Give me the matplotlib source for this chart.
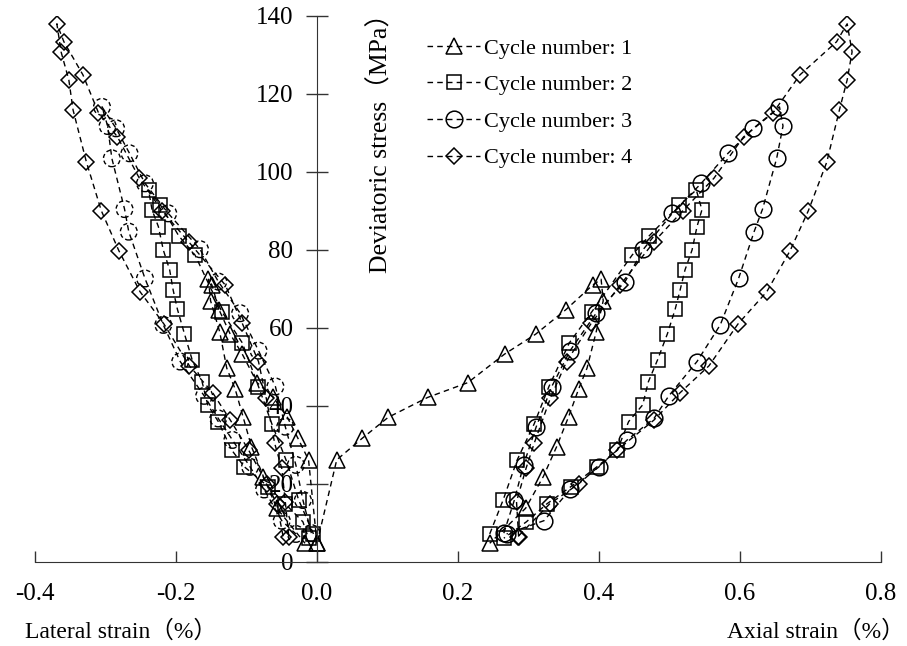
import matplotlib
matplotlib.use('Agg')
import matplotlib.pyplot as plt

plt.rcParams['font.family'] = ['Liberation Serif', 'Noto Sans CJK SC']

# stress (MPa) with the matching axial / lateral strain (%) for each cycle
stress1 = [4.8, 26.2, 31.7, 37.1, 42.2, 46.0, 53.3, 58.4, 64.7, 71.0, 72.5,
           67.0, 59.0, 49.7, 44.3, 37.3, 29.6, 21.9, 13.8, 4.8]
axial1 = [0.0, 0.028, 0.064, 0.101, 0.157, 0.214, 0.266, 0.310, 0.353, 0.391, 0.403,
          0.406, 0.396, 0.383, 0.371, 0.357, 0.340, 0.321, 0.296, 0.245]
lateral1 = [0.0, -0.012, -0.027, -0.042, -0.062, -0.085, -0.106, -0.123, -0.139, -0.149, -0.154,
            -0.151, -0.138, -0.128, -0.116, -0.105, -0.093, -0.076, -0.057, -0.017]

stress2 = [7.2, 15.9, 26.2, 35.4, 45.0, 56.2, 64.2, 78.7, 83.6, 91.5, 95.4,
           90.3, 86.0, 80.0, 74.9, 69.7, 64.8, 58.5, 51.8, 46.2, 40.3, 36.0, 28.7, 24.4, 19.3, 14.9, 10.3, 6.1]
axial2 = [0.245, 0.264, 0.284, 0.308, 0.329, 0.358, 0.390, 0.447, 0.471, 0.514, 0.538,
          0.546, 0.539, 0.532, 0.522, 0.515, 0.508, 0.497, 0.483, 0.470, 0.462, 0.442, 0.426, 0.397, 0.360, 0.326, 0.297, 0.265]
lateral2 = [-0.005, -0.026, -0.044, -0.064, -0.083, -0.106, -0.135, -0.173, -0.196, -0.222, -0.239,
            -0.234, -0.225, -0.218, -0.209, -0.204, -0.198, -0.188, -0.177, -0.163, -0.155, -0.140, -0.121, -0.103, -0.069, -0.045, -0.020, -0.012]

stress3 = [7.4, 15.9, 24.9, 34.7, 45.0, 54.2, 63.8, 71.9, 80.2, 89.4, 97.1, 104.8, 111.2, 116.7,
           111.8, 103.5, 90.5, 84.7, 72.7, 60.8, 51.4, 42.6, 36.8, 31.3, 24.4, 18.6, 10.6, 7.2]
axial3 = [0.265, 0.280, 0.293, 0.311, 0.333, 0.359, 0.396, 0.437, 0.463, 0.504, 0.545, 0.583, 0.619, 0.656,
          0.661, 0.652, 0.632, 0.620, 0.598, 0.572, 0.539, 0.499, 0.478, 0.440, 0.400, 0.359, 0.322, 0.269]
lateral3 = [-0.008, -0.020, -0.030, -0.045, -0.059, -0.083, -0.109, -0.140, -0.166, -0.211, -0.244, -0.266, -0.285, -0.305,
            -0.297, -0.291, -0.273, -0.267, -0.244, -0.218, -0.194, -0.160, -0.140, -0.120, -0.095, -0.075, -0.050, -0.030]

stress4 = [6.5, 15.5, 24.0, 30.4, 42.0, 51.4, 61.2, 71.0, 82.1, 90.1, 98.4, 109.0, 115.2, 124.9, 133.4, 138.0,
           130.8, 123.6, 115.9, 102.5, 90.1, 79.8, 69.3, 61.0, 50.3, 43.4, 36.4, 28.7, 20.0, 14.9, 6.5]
axial4 = [0.286, 0.283, 0.2965, 0.308, 0.331, 0.354, 0.389, 0.430, 0.478, 0.519, 0.563, 0.605, 0.647, 0.685, 0.737, 0.752,
          0.759, 0.752, 0.741, 0.723, 0.697, 0.671, 0.638, 0.597, 0.556, 0.515, 0.478, 0.426, 0.371, 0.330, 0.285]
lateral4 = [-0.040, -0.045, -0.050, -0.060, -0.072, -0.083, -0.106, -0.130, -0.182, -0.220, -0.252, -0.283, -0.310, -0.332, -0.359, -0.369,
            -0.363, -0.352, -0.346, -0.327, -0.306, -0.281, -0.251, -0.217, -0.181, -0.148, -0.123, -0.097, -0.071, -0.057, -0.048]

cycle_labels = ['Cycle number: 1', 'Cycle number: 2', 'Cycle number: 3', 'Cycle number: 4']
xticks = [-0.4, -0.2, 0.0, 0.2, 0.4, 0.6, 0.8]
yticks = [0, 20, 40, 60, 80, 100, 120, 140]

fig = plt.figure(figsize=(9.07, 6.46), dpi=100)
ax = fig.add_axes([35 / 907, 84 / 646, 846 / 907, 546 / 646])

line_kw = dict(color='k', lw=1.0, linestyle=(0, (4, 3)), mfc='none', mec='k', mew=1.1)
styles = [('^', 11.5), ('s', 10.5), ('o', 12.0), ('D', 7.8)]
series = [(stress1, axial1, lateral1), (stress2, axial2, lateral2),
          (stress3, axial3, lateral3), (stress4, axial4, lateral4)]

handles = []
for i, ((s, ea, el), (mk, ms)) in enumerate(zip(series, styles)):
    h, = ax.plot(ea, s, marker=mk, ms=ms, label=cycle_labels[i], **line_kw)
    handles.append(h)
    if mk == 'o':
        # lateral circles drawn with a dashed outline
        ax.plot(el, s, marker='none', **line_kw)
        ax.scatter(el, s, s=ms ** 2, marker='o', facecolors='none', edgecolors='k',
                   linewidths=1.0, linestyles=(0, (3, 2)), zorder=3)
    else:
        ax.plot(el, s, marker=mk, ms=ms, **line_kw)

ax.set_xlim(-0.4, 0.8)
ax.set_ylim(0, 140)
ax.spines['left'].set_position(('data', 0))
ax.spines['right'].set_visible(False)
ax.spines['top'].set_visible(False)
ax.spines['left'].set_color('#333333')
ax.spines['bottom'].set_color('#333333')
ax.set_xticks(xticks)
ax.set_xticklabels(['%.1f' % v for v in xticks])
ax.set_yticks(yticks)
ax.tick_params(axis='x', direction='in', length=8, width=1, pad=15, labelsize=18, color='#333333')
ax.tick_params(axis='y', direction='inout', length=16, width=1, pad=9, labelsize=18, color='#333333')

ax.text(0.09, 109.0, 'Deviatoric stress（MPa）', rotation=90, ha='center', va='center', fontsize=18.5)

ax.legend(handles=handles, loc='upper left', bbox_to_anchor=(416 / 907, 1 - 27 / 646),
          bbox_transform=fig.transFigure, frameon=False, fontsize=16, handlelength=2.4,
          handletextpad=0.15, labelspacing=0.72, borderpad=0, numpoints=1)

fig.text(25 / 907, 1 - 632 / 646, 'Lateral strain（%）', ha='left', va='center', fontsize=17)
fig.text(905 / 907, 1 - 632 / 646, 'Axial strain（%）', ha='right', va='center', fontsize=17)

fig.savefig('out.png', dpi=100)
